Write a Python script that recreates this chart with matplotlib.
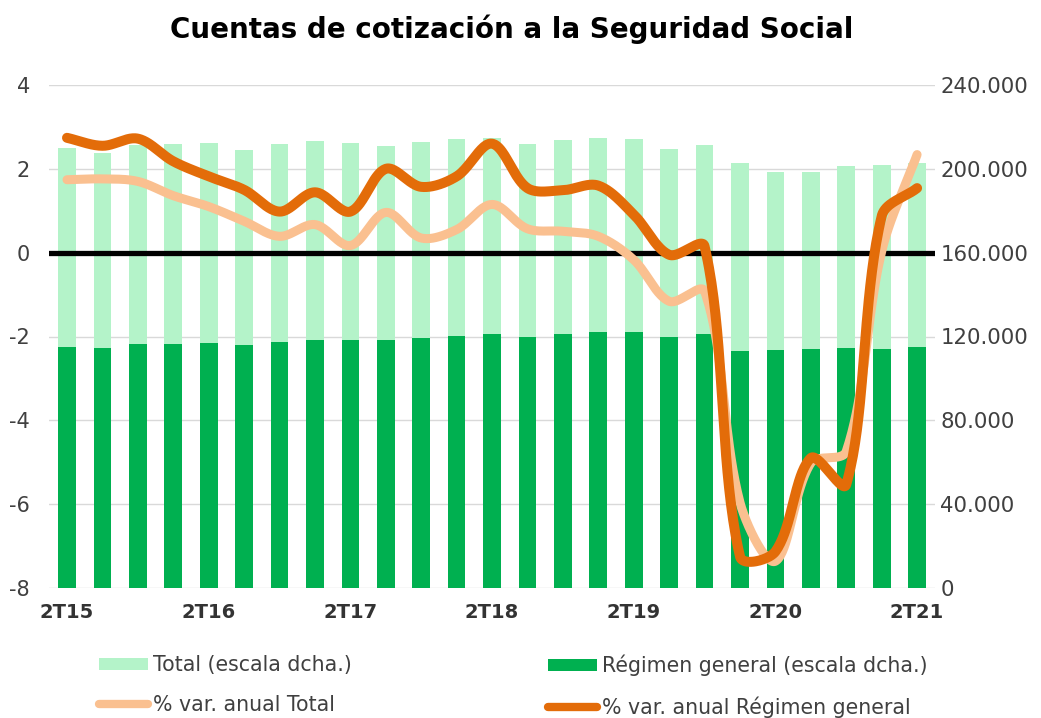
import numpy as np
import matplotlib
matplotlib.use("Agg")
import matplotlib.pyplot as plt
from matplotlib.patches import Patch
from matplotlib.lines import Line2D

plt.rcParams["axes.unicode_minus"] = False

# ---------------- data ----------------
quarters = ["2T15", "3T15", "4T15", "1T16", "2T16", "3T16", "4T16", "1T17", "2T17", "3T17",
            "4T17", "1T18", "2T18", "3T18", "4T18", "1T19", "2T19", "3T19", "4T19", "1T20",
            "2T20", "3T20", "4T20", "1T21", "2T21"]

total_accounts = [210100, 207400, 211400, 211800, 212200, 209000, 211800, 213100, 212500, 210700,
                  212900, 214100, 214800, 211800, 213700, 214700, 214200, 209300, 211400, 202600,
                  198600, 198600, 201500, 201800, 202900]

general_accounts = [115100, 114400, 116400, 116400, 117000, 115800, 117500, 118200, 118200, 118200,
                    119400, 120200, 121200, 119900, 121200, 122100, 122100, 119900, 121200, 113200,
                    113600, 114000, 114500, 114000, 115100]

var_total = [1.74, 1.76, 1.70, 1.36, 1.10, 0.75, 0.39, 0.67, 0.17, 0.96,
             0.35, 0.55, 1.15, 0.57, 0.51, 0.39, -0.17, -1.16, -0.92, -5.96,
             -7.36, -5.02, -4.74, 0.03, 2.34]

var_general = [2.74, 2.55, 2.72, 2.18, 1.82, 1.50, 0.98, 1.44, 0.98, 2.00,
               1.57, 1.82, 2.60, 1.54, 1.49, 1.60, 0.91, -0.05, 0.15, -7.25,
               -7.13, -4.90, -5.53, 0.87, 1.54]

left_ticks = [4, 2, 0, -2, -4, -6, -8]
right_ticks = [0, 40000, 80000, 120000, 160000, 200000, 240000]
right_tick_labels = ["0", "40.000", "80.000", "120.000", "160.000", "200.000", "240.000"]
shown_labels = ["2T15", "2T16", "2T17", "2T18", "2T19", "2T20", "2T21"]

title = "Cuentas de cotización a la Seguridad Social"
lbl_total = "Total (escala dcha.)"
lbl_general = "Régimen general (escala dcha.)"
lbl_var_total = "% var. anual Total"
lbl_var_general = "% var. anual Régimen general"

# ---------------- colours ----------------
c_total = "#B4F3C9"
c_general = "#00B050"
c_var_total = "#FAC090"
c_var_general = "#E36C09"
c_text = "#404040"


def smooth_display(ax, xs, ys, n=40):
    """Excel-like smoothed line: Bezier segments whose control arms are
    proportional to the adjacent segment lengths (computed in screen space)."""
    P = ax.transData.transform(np.column_stack([xs, ys]).astype(float))
    m = len(P)
    out = []
    t = np.linspace(0, 1, n)[:, None]
    arms_in, arms_out = [], []
    for i in range(m):
        p_prev = P[i - 1] if i > 0 else P[i]
        p_next = P[i + 1] if i < m - 1 else P[i]
        d_in = np.linalg.norm(P[i] - p_prev)
        d_out = np.linalg.norm(p_next - P[i])
        tot = d_in + d_out
        tang = p_next - p_prev
        if tot == 0:
            arms_in.append(np.zeros(2)); arms_out.append(np.zeros(2)); continue
        arms_in.append(tang * d_in / tot / 3.0)
        arms_out.append(tang * d_out / tot / 3.0)
    for i in range(m - 1):
        p1, p2 = P[i], P[i + 1]
        c1 = p1 + arms_out[i]
        c2 = p2 - arms_in[i + 1]
        seg = ((1 - t) ** 3) * p1 + 3 * ((1 - t) ** 2) * t * c1 + 3 * (1 - t) * t ** 2 * c2 + t ** 3 * p2
        out.append(seg if i == 0 else seg[1:])
    arr = ax.transData.inverted().transform(np.vstack(out))
    return arr[:, 0], arr[:, 1]


W, H = 1041, 718
fig = plt.figure(figsize=(W / 100, H / 100), dpi=100)
ax = fig.add_axes([49.3 / W, 1 - 588 / H, (934.8 - 49.3) / W, (588 - 85) / H])
ax2 = ax.twinx()

x = np.arange(len(quarters))

# bars on the right axis
ax2.bar(x, total_accounts, width=0.5, color=c_total, zorder=2)
ax2.bar(x, general_accounts, width=0.5, color=c_general, zorder=3)
ax2.set_ylim(0, 240000)
ax2.set_yticks(right_ticks)
ax2.set_yticklabels(right_tick_labels)
ax2.grid(axis="y", color="#D9D9D9", linewidth=1.0, zorder=0)
ax2.set_axisbelow(True)

# lines on the left axis, drawn above bars
ax.set_zorder(ax2.get_zorder() + 1)
ax.patch.set_visible(False)
ax.set_ylim(-8, 4)
ax.set_xlim(-0.5, len(quarters) - 0.5)
ax.axhline(0, color="black", linewidth=3.8, zorder=2)
sx, sy = smooth_display(ax, x, var_total)
ax.plot(sx, sy, color=c_var_total, linewidth=6.5, solid_capstyle="round", solid_joinstyle="round", zorder=3)
sx, sy = smooth_display(ax, x, var_general)
ax.plot(sx, sy, color=c_var_general, linewidth=7.2, solid_capstyle="round", solid_joinstyle="round", zorder=4)
ax.set_yticks(left_ticks)

tick_pos = [quarters.index(q) for q in shown_labels]
ax.set_xticks(tick_pos)
ax.set_xticklabels(shown_labels, fontsize=14, fontweight="bold", color="#333333")
ax.tick_params(axis="x", length=0, pad=11)
ax.tick_params(axis="y", length=0, pad=14, labelsize=15, labelcolor=c_text)
ax2.tick_params(axis="y", length=0, pad=4, labelsize=15.3, labelcolor=c_text)

for a in (ax, ax2):
    for s in a.spines.values():
        s.set_visible(False)

fig.text(512 / W, 1 - 29 / H, title, ha="center", va="center", fontsize=20, fontweight="bold", color="black")

# legends
h_total = Patch(facecolor=c_total, edgecolor="none")
h_general = Patch(facecolor=c_general, edgecolor="none")
h_vt = Line2D([0], [0], color=c_var_total, linewidth=6, solid_capstyle="round")
h_vg = Line2D([0], [0], color=c_var_general, linewidth=6, solid_capstyle="round")

common = dict(loc="upper left", frameon=False, fontsize=14.8, borderpad=0, borderaxespad=0,
              handlelength=2.4, handleheight=0.5, handletextpad=0.25, labelspacing=0.95,
              labelcolor=c_text)
leg1 = fig.legend([h_total, h_vt], [lbl_total, lbl_var_total],
                  bbox_to_anchor=(99 / W, 1 - 655 / H), **common)
leg2 = fig.legend([h_general, h_vg], [lbl_general, lbl_var_general],
                  bbox_to_anchor=(548 / W, 1 - 655 / H), **common)

fig.savefig("out.png", dpi=100)
